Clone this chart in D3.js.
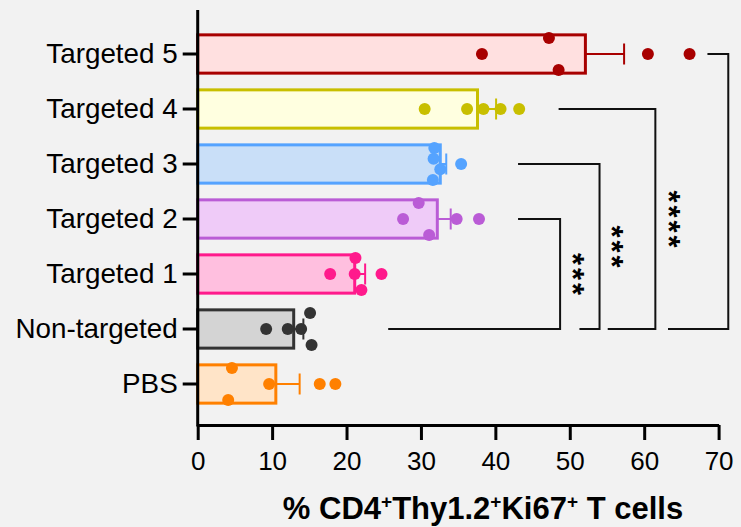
<!DOCTYPE html>
<html>
<head>
<meta charset="utf-8">
<script src="https://cdn.jsdelivr.net/npm/d3@7"></script>
<style>
  body { margin: 0; background: #f2f2f2; }
  svg { display: block; font-family: "Liberation Sans", Arial, sans-serif; }
</style>
</head>
<body>
<svg class="chart" width="741" height="527"></svg>
<script>
var categories = ['Targeted 5', 'Targeted 4', 'Targeted 3', 'Targeted 2', 'Targeted 1', 'Non-targeted', 'PBS'];
var means = [52.1, 37.6, 32.6, 32.2, 21.1, 12.9, 10.5];
var sems = [5.2, 2.5, 0.8, 1.8, 1.4, 1.3, 3.2];

// individual animals, one list per group (same order as categories)
var points = [
    [38.2, 47.2, 48.5, 60.5, 66.1],
    [30.5, 36.2, 38.4, 40.7, 43.2],
    [31.8, 31.7, 32.6, 31.6, 35.4],
    [29.7, 27.6, 31.1, 34.8, 37.8],
    [21.2, 17.8, 21.1, 24.7, 22.0],
    [9.2, 12.1, 13.9, 15.1, 15.3],
    [4.6, 9.6, 4.1, 16.4, 18.5]
];
// scatter lane of each point (-1.5 .. 1.5), as Prism stacked them
var lanes = [
    [0, -1.5, 1.5, 0, 0],
    [0, 0, 0, 0, 0],
    [-1.5, -0.5, 0.5, 1.5, 0],
    [-1.5, 0, 1.5, 0, 0],
    [-1.5, 0, 0, 0, 1.5],
    [0, 0, 0, -1.5, 1.5],
    [-1.5, 0, 1.5, 0, 0]
];

var xTicks = [0, 10, 20, 30, 40, 50, 60, 70];

// significance brackets vs Non-targeted
var compGroups = ['Targeted 2', 'Targeted 3', 'Targeted 4', 'Targeted 5'];
var compLabels = ['***', '***', '****', ''];
var compX = [48.7, 54.0, 61.5, 71.3];
var compTopStart = [43.05, 43.05, 48.5, 68.5];
var compBottomStart = [25.6, 51.3, 55.1, 63.2];
var compStarX = [51.4, 56.7, 64.3, 74.4];

var strokeColors = ['#a80000', '#c8bf00', '#55a3ff', '#ba5cd6', '#ff1a8c', '#333333', '#ff8000'];
var fillColors = ['#ffe0e0', '#ffffe0', '#c9dff8', '#efcbf8', '#ffbfdf', '#d4d4d4', '#ffe4c8'];

var svg = d3.select('.chart');

var xScale = d3.scaleLinear().domain([0, 70]).range([197.7, 718.6]);
var yScale = d3.scaleBand()
    .domain(categories)
    .range([26.5, 411.5])
    .paddingInner(0.304)
    .paddingOuter(0.152);
var laneScale = d3.scaleLinear().domain([-1.5, 1.5]).range([-16, 16]);

var groups = categories.map(function(name, i) {
    return {
        name: name,
        mean: means[i],
        sem: sems[i],
        stroke: strokeColors[i],
        fill: fillColors[i],
        points: points[i].map(function(v, j) {
            return { value: v, lane: lanes[i][j] };
        })
    };
});

function center(name) {
    return yScale(name) + yScale.bandwidth() / 2;
}

svg.append('rect')
    .attr('width', 741)
    .attr('height', 527)
    .attr('fill', '#f2f2f2');

/* Bars */
svg.append('g').attr('class', 'bars')
    .selectAll('rect')
    .data(groups)
    .join('rect')
    .attr('x', xScale(0))
    .attr('y', function(d) { return yScale(d.name); })
    .attr('width', function(d) { return xScale(d.mean) - xScale(0); })
    .attr('height', yScale.bandwidth())
    .attr('fill', function(d) { return d.fill; })
    .attr('stroke', function(d) { return d.stroke; })
    .attr('stroke-width', 3);

/* Error bars (+SEM only) */
var errors = svg.append('g').attr('class', 'errors')
    .selectAll('g')
    .data(groups)
    .join('g')
    .attr('stroke', function(d) { return d.stroke; })
    .attr('stroke-width', 2);

errors.append('line')
    .attr('x1', function(d) { return xScale(d.mean); })
    .attr('x2', function(d) { return xScale(d.mean + d.sem); })
    .attr('y1', function(d) { return center(d.name); })
    .attr('y2', function(d) { return center(d.name); });

errors.append('line')
    .attr('x1', function(d) { return xScale(d.mean + d.sem); })
    .attr('x2', function(d) { return xScale(d.mean + d.sem); })
    .attr('y1', function(d) { return center(d.name) - 10.5; })
    .attr('y2', function(d) { return center(d.name) + 10.5; });

/* Dots */
svg.append('g').attr('class', 'dots')
    .selectAll('g')
    .data(groups)
    .join('g')
    .attr('fill', function(d) { return d.stroke; })
    .selectAll('circle')
    .data(function(d) {
        return d.points.map(function(p) {
            return { name: d.name, value: p.value, lane: p.lane };
        });
    })
    .join('circle')
    .attr('cx', function(d) { return xScale(d.value); })
    .attr('cy', function(d) { return center(d.name) + laneScale(d.lane); })
    .attr('r', 6);

/* Axes */
var xAxis = d3.axisBottom(xScale)
    .tickValues(xTicks)
    .tickSize(15)
    .tickSizeOuter(0)
    .tickPadding(12);

var xg = svg.append('g')
    .attr('transform', 'translate(0,425)')
    .call(xAxis);
xg.selectAll('path, line').attr('stroke', '#000').attr('stroke-width', 3);
xg.selectAll('text')
    .attr('fill', '#000')
    .style('font-size', '26px')
    .style('font-family', '"Liberation Sans", Arial, sans-serif');

var yAxis = d3.axisLeft(yScale)
    .tickSize(15)
    .tickSizeOuter(0)
    .tickPadding(5);

var yg = svg.append('g')
    .attr('transform', 'translate(' + xScale(0) + ',0)')
    .call(yAxis);
yg.select('.domain').remove();
yg.selectAll('line').attr('stroke', '#000').attr('stroke-width', 3);
yg.selectAll('text')
    .attr('fill', '#000')
    .style('font-size', '27.8px')
    .style('font-family', '"Liberation Sans", Arial, sans-serif');
yg.append('line')
    .attr('x1', 0).attr('x2', 0)
    .attr('y1', 10).attr('y2', 426.5)
    .attr('stroke', '#000')
    .attr('stroke-width', 3);

/* Axis title with superscripts */
var title = svg.append('text')
    .attr('x', 483)
    .attr('y', 519)
    .attr('text-anchor', 'middle')
    .attr('fill', '#000')
    .style('font-size', '31px')
    .style('font-weight', 'bold');

var titleParts = [['% CD4', false], ['+', true], ['Thy1.2', false], ['+', true], ['Ki67', false], ['+', true], [' T cells', false]];
titleParts.forEach(function(p, i) {
    var prevSup = i > 0 && titleParts[i - 1][1];
    var ts = title.append('tspan').text(p[0]);
    if (p[1]) {
        ts.attr('dy', -11).style('font-size', '19px');
    } else if (prevSup) {
        ts.attr('dy', 11);
    }
});

/* Significance brackets */
var yBottom = center('Non-targeted');
var comps = compGroups.map(function(g, i) {
    return {
        group: g,
        label: compLabels[i],
        x: compX[i],
        topStart: compTopStart[i],
        bottomStart: compBottomStart[i],
        starX: compStarX[i]
    };
});

svg.append('g').attr('class', 'brackets')
    .selectAll('path')
    .data(comps)
    .join('path')
    .attr('fill', 'none')
    .attr('stroke', '#111')
    .attr('stroke-width', 2)
    .attr('d', function(d) {
        var yTop = center(d.group);
        return 'M' + xScale(d.topStart) + ',' + yTop +
            'H' + xScale(d.x) +
            'V' + yBottom +
            'H' + xScale(d.bottomStart);
    });

var starData = [];
comps.forEach(function(d) {
    var n = d.label.length;
    var mid = (center(d.group) + yBottom) / 2;
    for (var k = 0; k < n; k++) {
        starData.push({ x: xScale(d.starX), y: mid + (k - (n - 1) / 2) * 15 });
    }
});

svg.append('g').attr('class', 'stars')
    .selectAll('text')
    .data(starData)
    .join('text')
    .attr('transform', function(d) {
        return 'translate(' + d.x + ',' + d.y + ') rotate(90)';
    })
    .attr('text-anchor', 'middle')
    .attr('dy', '0.585em')
    .attr('fill', '#000')
    .style('font-size', '31px')
    .style('font-weight', 'bold')
    .text('*');
</script>
</body>
</html>
